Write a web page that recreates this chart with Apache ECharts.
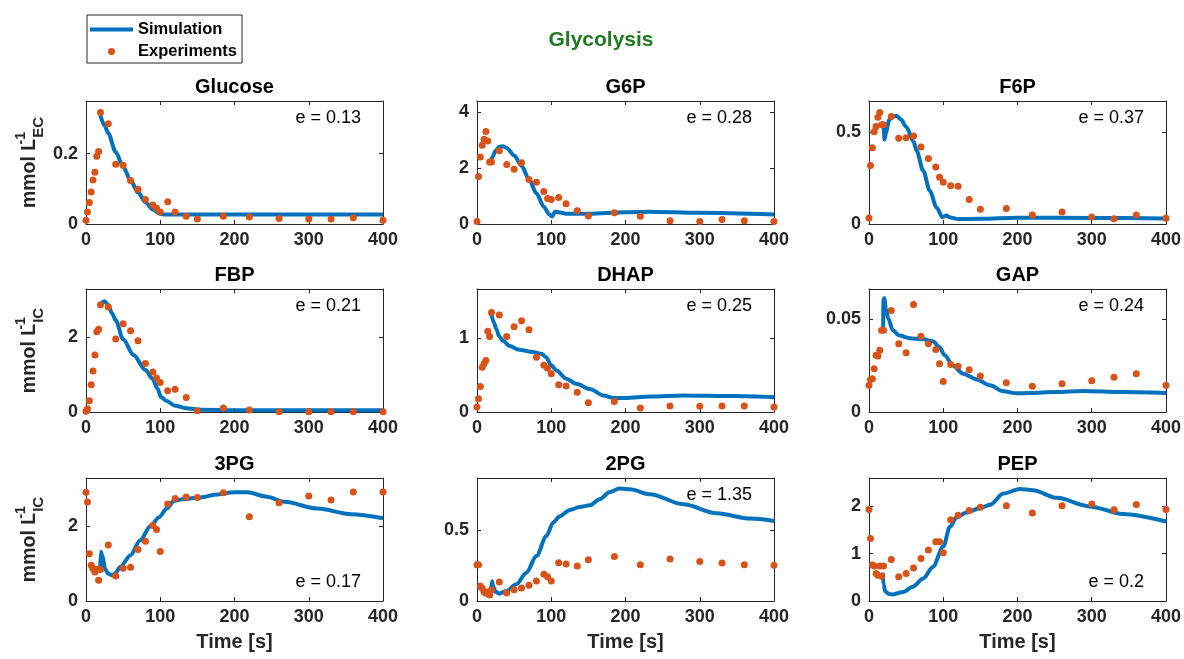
<!DOCTYPE html>
<html>
<head>
<meta charset="utf-8">
<title>Glycolysis</title>
<script src="https://cdn.jsdelivr.net/npm/echarts@6.0.0/dist/echarts.min.js"></script>
<style>
  html, body { margin: 0; padding: 0; background: #fff; }
  #main { width: 1184px; height: 659px; }
</style>
</head>
<body>
<div id="main"></div>
<script>
  // sampling times of the measurements [s]
  var expTimes = [0, 2, 4.5, 7, 9.5, 12, 14.5, 17, 19.5, 30, 40, 50, 60, 70, 80, 90, 95, 100,
                  110, 120, 135, 150, 185, 220, 260, 300, 330, 360, 400];

  var panelNames = ['Glucose', 'G6P', 'F6P', 'FBP', 'DHAP', 'GAP', '3PG', '2PG', 'PEP'];
  var errValues  = ['0.13', '0.28', '0.37', '0.21', '0.25', '0.24', '0.17', '1.35', '0.2'];
  var errAtBottom = [false, false, false, false, false, false, true, false, true];
  var yMaxes = [0.35, 4.4, 0.67, 3.3, 1.66, 0.066, 3.3, 0.87, 2.6];
  var yTickSteps = [0.2, 2, 0.5, 2, 1, 0.05, 2, 0.5, 1];

  // experiments
  var glucoseExp = [0.011, 0.034, 0.061, 0.091, 0.125, 0.147, 0.193, 0.206, 0.317, 0.285, 0.170, 0.167, 0.124, 0.099,
                    0.070, 0.054, 0.045, 0.034, 0.063, 0.034, 0.022, 0.014, 0.022, 0.020, 0.016, 0.014, 0.014, 0.018, 0.011];
  var g6pExp = [0.085, 1.70, 2.40, 2.82, 3.03, 3.31, 2.97, 2.22, 2.22, 2.62, 2.13, 1.96, 2.19, 1.59,
                1.49, 1.16, 0.91, 0.88, 0.95, 0.72, 0.47, 0.29, 0.40, 0.28, 0.12, 0.085, 0.16, 0.12, 0.085];
  var f6pExp = [0.033, 0.319, 0.415, 0.503, 0.531, 0.582, 0.608, 0.54, 0.54, 0.586, 0.467, 0.47, 0.48, 0.42,
                0.357, 0.31, 0.254, 0.227, 0.209, 0.205, 0.134, 0.081, 0.084, 0.049, 0.066, 0.038, 0.029, 0.049, 0.031];
  var fbpExp = [0.018, 0.09, 0.30, 0.73, 1.10, 1.53, 2.15, 2.22, 2.88, 2.82, 1.96, 2.37, 2.18, 1.91,
                1.30, 1.07, 0.91, 0.79, 0.57, 0.61, 0.39, 0.036, 0.107, 0.053, 0.01, 0.01, 0.01, 0.01, 0.01];
  var dhapExp = [0.067, 0.18, 0.345, 0.605, 0.65, 0.695, 1.09, 1.02, 1.344, 1.31, 1.02, 1.15, 1.23, 1.11,
                 0.74, 0.63, 0.59, 0.516, 0.368, 0.35, 0.265, 0.126, 0.143, 0.054, 0.08, 0.076, 0.08, 0.08, 0.067];
  var gapExp = [0.0143, 0.0175, 0.0179, 0.0232, 0.0304, 0.030, 0.0332, 0.0438, 0.0439, 0.0545, 0.0366, 0.0318, 0.0577, 0.0407,
                0.0366, 0.0336, 0.0259, 0.0164, 0.0255, 0.0246, 0.0227, 0.0193, 0.0157, 0.0138, 0.0152, 0.0168, 0.0186, 0.0205, 0.0143];
  var pg3Exp = [2.915, 2.655, 1.265, 0.96, 0.87, 0.78, 0.85, 0.556, 0.843, 1.50, 0.673, 0.879, 0.906, 1.38,
                1.605, 2.027, 1.92, 1.327, 2.60, 2.753, 2.79, 2.78, 2.906, 2.26, 2.637, 2.816, 2.709, 2.924, 2.924];
  var pg2Exp = [0.257, 0.257, 0.106, 0.09, 0.066, 0.054, 0.064, 0.042, 0.078, 0.134, 0.057, 0.08, 0.092, 0.111,
                0.142, 0.189, 0.172, 0.142, 0.271, 0.262, 0.248, 0.292, 0.314, 0.257, 0.297, 0.28, 0.269, 0.257, 0.252];
  var pepExp = [1.936, 1.32, 0.76, 0.74, 0.58, 0.546, 0.74, 0.525, 0.74, 0.879, 0.51, 0.58, 0.695, 0.90,
                1.078, 1.255, 1.255, 1.02, 1.72, 1.815, 1.915, 1.98, 2.014, 1.858, 2.014, 2.05, 1.93, 2.04, 1.936];

  // simulation [t, value]
  var glucoseSim = [[19.3, 0.31], [25, 0.28], [30, 0.258], [40, 0.205], [50, 0.163], [60, 0.124], [70, 0.09],
                    [80, 0.062], [90, 0.041], [100, 0.029], [105, 0.027], [120, 0.027], [200, 0.027], [300, 0.027], [400, 0.027]];
  var g6pSim = [[18.5, 2.25], [20, 2.35], [25, 2.62], [30, 2.76], [35, 2.78], [40, 2.72], [50, 2.45], [60, 2.08],
                [70, 1.6], [80, 1.1], [90, 0.62], [97, 0.35], [101, 0.27], [105, 0.44], [110, 0.42], [120, 0.37],
                [150, 0.37], [200, 0.42], [230, 0.44], [300, 0.40], [400, 0.34]];
  var f6pSim = [[18, 0.55], [19.5, 0.53], [21, 0.46], [23, 0.5], [27, 0.565], [32, 0.585], [37, 0.59], [43, 0.57],
                [50, 0.53], [60, 0.45], [64, 0.40], [73, 0.29], [82, 0.18], [91, 0.09], [99, 0.037], [104, 0.046],
                [110, 0.035], [120, 0.027], [150, 0.028], [200, 0.034], [300, 0.033], [400, 0.03]];
  var fbpSim = [[21, 2.92], [25, 2.97], [30, 2.87], [35, 2.65], [40, 2.46], [50, 1.95], [64, 1.53], [80, 1.13],
                [89.5, 0.9], [96, 0.64], [101, 0.4], [108, 0.3], [120, 0.17], [135, 0.1], [155, 0.06], [200, 0.05], [400, 0.05]];
  var dhapSim = [[19.3, 1.32], [23, 1.2], [26, 1.12], [30, 1.02], [35, 0.96], [44, 0.89], [57, 0.84], [75, 0.81],
                 [87, 0.785], [93, 0.74], [100, 0.63], [107, 0.56], [120, 0.45], [134, 0.38], [152, 0.31], [170, 0.224],
                 [183, 0.19], [200, 0.19], [233, 0.21], [278, 0.224], [345, 0.215], [400, 0.2]];
  var gapSim = [[19, 0.044], [19.5, 0.06], [20.5, 0.061], [23, 0.055], [26, 0.05], [32, 0.0438], [41, 0.041],
                [55, 0.0396], [73, 0.039], [86, 0.0379], [95, 0.0348], [102, 0.0304], [113, 0.025], [127, 0.0205],
                [145, 0.0175], [163, 0.0143], [181, 0.0111], [199, 0.01], [216, 0.0102], [252, 0.0107], [288, 0.0113],
                [342, 0.0107], [400, 0.0102]];
  var pg3Sim = [[19, 0.83], [20, 1.32], [22, 1.2], [26, 0.85], [30, 0.73], [35, 0.69], [40, 0.75], [46, 0.915],
                [60, 1.23], [73, 1.63], [87, 2.01], [98, 2.24], [109, 2.48], [118, 2.68], [130, 2.73], [154, 2.78],
                [177, 2.86], [199, 2.915], [217, 2.915], [244, 2.8], [267, 2.66], [312, 2.48], [357, 2.33], [400, 2.22]];
  var pg2Sim = [[19, 0.071], [20, 0.14], [22, 0.1], [25, 0.065], [30, 0.052], [39.5, 0.071], [53, 0.118],
                [66.5, 0.2], [80, 0.318], [93.5, 0.46], [102.5, 0.554], [111.5, 0.6], [125, 0.644], [138, 0.665],
                [152, 0.677], [165, 0.72], [179, 0.771], [192, 0.795], [206, 0.79], [233, 0.755], [278, 0.684],
                [323, 0.62], [368, 0.583], [400, 0.566]];
  var pepSim = [[18.5, 0.6], [19.5, 0.35], [22, 0.2], [27, 0.15], [32, 0.14], [46, 0.19], [59, 0.3], [73, 0.475],
                [86, 0.72], [100, 1.15], [109, 1.57], [118, 1.77], [131, 1.87], [149, 1.96], [163, 2.035], [181, 2.27],
                [203, 2.37], [221, 2.34], [253, 2.18], [297, 2.0], [342, 1.84], [400, 1.68]];

  var expData = [glucoseExp, g6pExp, f6pExp, fbpExp, dhapExp, gapExp, pg3Exp, pg2Exp, pepExp];
  var simData = [glucoseSim, g6pSim, f6pSim, fbpSim, dhapSim, gapSim, pg3Sim, pg2Sim, pepSim];

  var FONT = '"Liberation Sans", Arial, Helvetica, sans-serif';
  var ink = '#262626';
  var blue = '#0072BD';
  var orange = '#D95319';

  var colLeft = [86, 477, 869];
  var rowTop = [101, 289, 478];
  var plotW = 297, plotH = 123;

  var myChart = echarts.init(document.getElementById('main'));

  var grids = [], xAxes = [], yAxes = [], series = [];
  var graphics = [{
    type: 'text', x: 601, y: 40,
    style: { text: 'Glycolysis', fill: '#217a21', fontFamily: FONT, fontWeight: 'bold', fontSize: 21, align: 'center', verticalAlign: 'middle' }
  }];

  // y label: superscript drawn with ~zero width so the subscript stacks under it
  var nameRich = {
    m:   { fontFamily: FONT, fontWeight: 'bold', fontSize: 19.5, color: ink, lineHeight: 32, verticalAlign: 'middle' },
    sup: { fontFamily: FONT, fontWeight: 'bold', fontSize: 14, color: ink, lineHeight: 15, verticalAlign: 'top', width: 1 },
    sub: { fontFamily: FONT, fontWeight: 'bold', fontSize: 15, color: ink, lineHeight: 16, verticalAlign: 'bottom' }
  };

  for (var i = 0; i < 9; i++) {
    var row = Math.floor(i / 3), col = i % 3;
    var gLeft = colLeft[col], gTop = rowTop[row];
    grids.push({ left: gLeft, top: gTop, width: plotW, height: plotH });

    xAxes.push({
      gridIndex: i, type: 'value', min: 0, max: 400, interval: 100, position: 'bottom',
      axisLine: { onZero: false, lineStyle: { color: ink, width: 1 } },
      axisTick: { inside: true, length: 4, lineStyle: { color: ink } },
      axisLabel: { fontFamily: FONT, fontWeight: 'bold', fontSize: 18, color: ink, margin: 7 },
      splitLine: { show: false },
      name: row === 2 ? 'Time [s]' : '',
      nameLocation: 'middle', nameGap: 31,
      nameTextStyle: { fontFamily: FONT, fontWeight: 'bold', fontSize: 20, color: ink }
    });
    xAxes.push({
      gridIndex: i, type: 'value', min: 0, max: 400, interval: 100, position: 'top',
      axisLine: { onZero: false, lineStyle: { color: ink, width: 1 } },
      axisTick: { inside: true, length: 4, lineStyle: { color: ink } },
      axisLabel: { show: false }, splitLine: { show: false }
    });

    var yName = '';
    if (col === 0) {
      yName = '{m|mmol L}{sup|-1}{sub|' + (row === 0 ? 'EC' : 'IC') + '}';
    }
    yAxes.push({
      gridIndex: i, type: 'value', min: 0, max: yMaxes[i], interval: yTickSteps[i], position: 'left',
      axisLine: { onZero: false, lineStyle: { color: ink, width: 1 } },
      axisTick: { inside: true, length: 4, lineStyle: { color: ink } },
      axisLabel: { fontFamily: FONT, fontWeight: 'bold', fontSize: 18, color: ink, margin: 8, showMaxLabel: false },
      splitLine: { show: false },
      name: yName, nameLocation: 'middle', nameRotate: 90, nameGap: 40,
      nameTextStyle: { rich: nameRich }
    });
    yAxes.push({
      gridIndex: i, type: 'value', min: 0, max: yMaxes[i], interval: yTickSteps[i], position: 'right',
      axisLine: { onZero: false, lineStyle: { color: ink, width: 1 } },
      axisTick: { inside: true, length: 4, lineStyle: { color: ink } },
      axisLabel: { show: false }, splitLine: { show: false }
    });

    series.push({
      name: 'Simulation', type: 'line',
      xAxisIndex: 2 * i, yAxisIndex: 2 * i,
      data: simData[i], symbol: 'none', smooth: 0.3, smoothMonotone: 'x',
      lineStyle: { color: blue, width: 4 }, itemStyle: { color: blue }, z: 2
    });
    series.push({
      name: 'Experiments', type: 'scatter',
      xAxisIndex: 2 * i, yAxisIndex: 2 * i,
      data: expTimes.map(function (t, k) { return [t, expData[i][k]]; }),
      symbol: 'circle', symbolSize: 7,
      itemStyle: { color: orange, opacity: 1 }, z: 3
    });

    graphics.push({
      type: 'text', x: gLeft + plotW / 2, y: gTop - 14,
      style: { text: panelNames[i], fill: '#000', fontFamily: FONT, fontWeight: 'bold', fontSize: 20, align: 'center', verticalAlign: 'middle' }
    });
    graphics.push({
      type: 'text', x: gLeft + plotW - 22, y: errAtBottom[i] ? gTop + plotH - 19 : gTop + 17,
      style: { text: 'e = ' + errValues[i], fill: '#000', fontFamily: FONT, fontSize: 18, align: 'right', verticalAlign: 'middle' }
    });
  }

  var option = {
    animation: false,
    backgroundColor: '#fff',
    grid: grids,
    xAxis: xAxes,
    yAxis: yAxes,
    legend: {
      left: 87, top: 15, orient: 'vertical',
      itemWidth: 43, itemHeight: 7, itemGap: 5,
      padding: [6, 5, 3, 3],
      borderColor: ink, borderWidth: 1, backgroundColor: '#fff',
      textStyle: { fontFamily: FONT, fontWeight: 'bold', fontSize: 16.5, color: '#000' },
      data: [
        { name: 'Simulation', icon: 'path://M0,0H43V4H0Z' },
        { name: 'Experiments', icon: 'circle' }
      ]
    },
    graphic: graphics,
    series: series
  };

  myChart.setOption(option);
</script>
</body>
</html>
